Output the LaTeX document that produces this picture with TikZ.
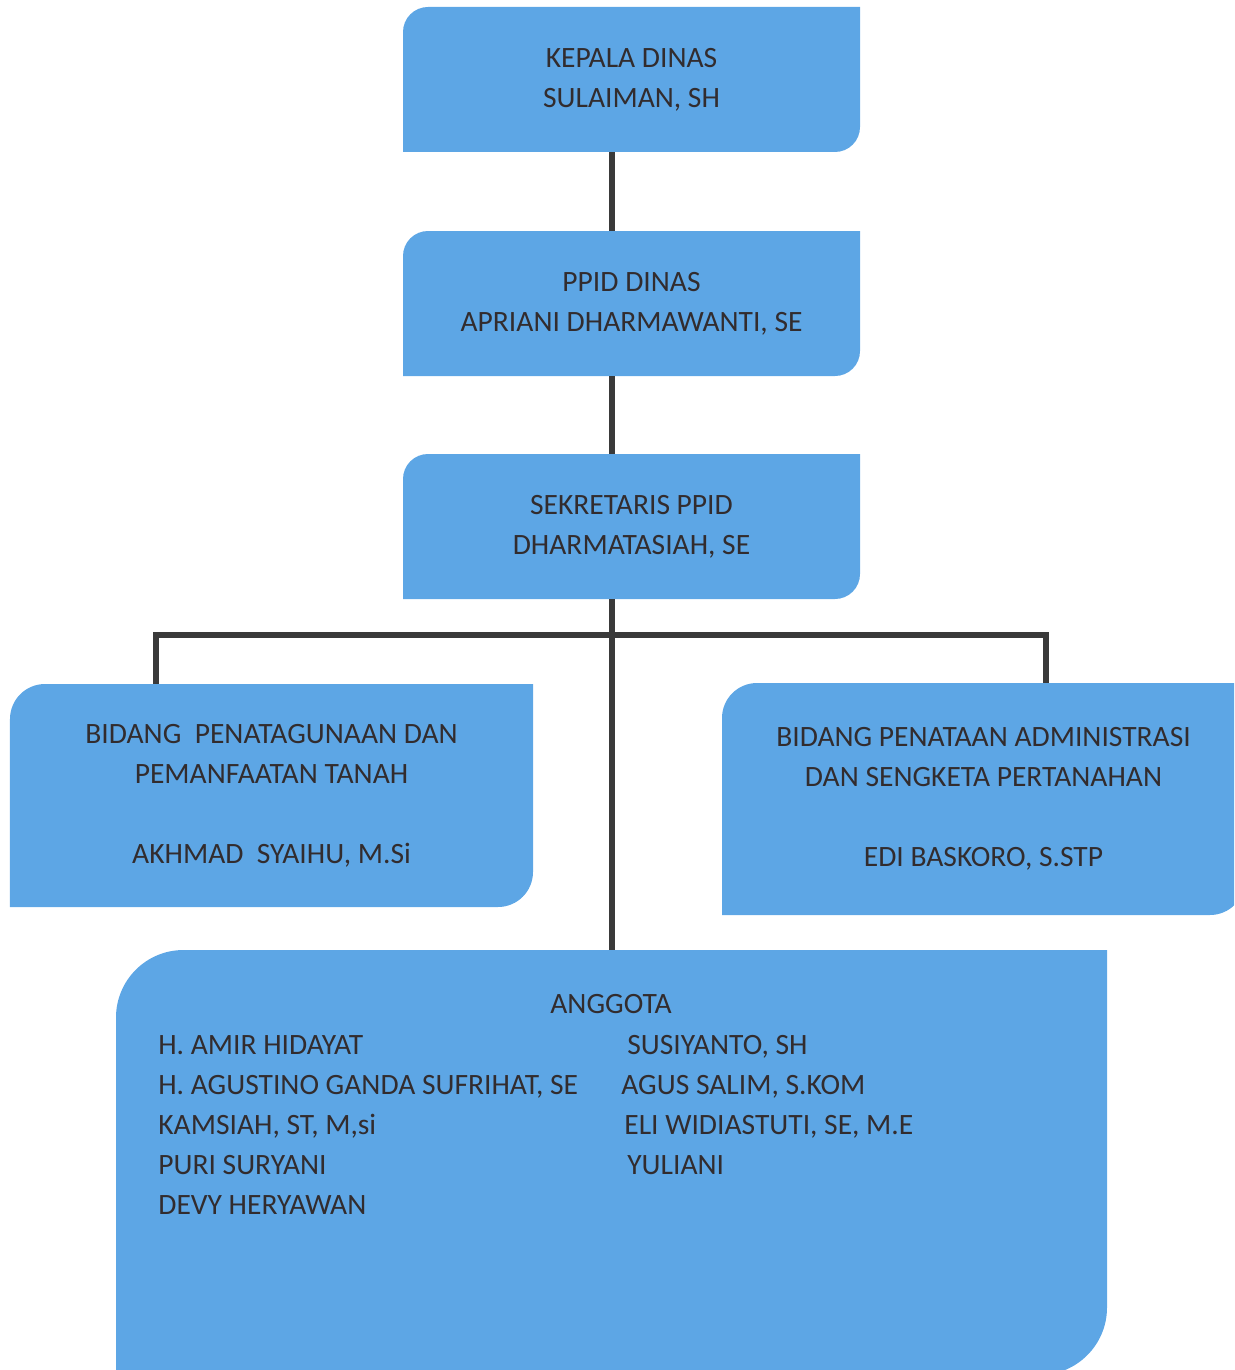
\documentclass[tikz,border=0pt]{standalone}
\usepackage{fontspec}
\setmainfont{Carlito}
\definecolor{biru}{RGB}{93,166,229}
\definecolor{tinta}{RGB}{50,44,46}
\definecolor{garisgelap}{RGB}{58,58,58}
\tikzset{
  kotak/.style={rectangle, inner sep=0pt, align=center, text=tinta,
    path picture={\fill[biru] (path picture bounding box.south west)
      -- ([yshift=-#1]path picture bounding box.north west)
      arc[start angle=180, end angle=90, radius=#1]
      -- (path picture bounding box.north east)
      -- ([yshift=#1]path picture bounding box.south east)
      arc[start angle=0, end angle=-90, radius=#1]
      -- cycle;}},
  garis/.style={draw=garisgelap, line width=3pt}
}
\begin{document}
\begin{tikzpicture}[every node/.style={font=\fontsize{16.8}{22.8}\selectfont}]

      \useasboundingbox (0,0) rectangle (24.68,-27.4);
      \clip (0,0) rectangle (24.68,-27.4);

      \node[kotak=0.5cm, minimum width=9.14cm, minimum height=2.9cm] (kepala) at (12.63,-1.59)
        {KEPALA DINAS\\SULAIMAN, SH};
      \node[kotak=0.5cm, minimum width=9.14cm, minimum height=2.9cm] (ppid) at (12.63,-6.07)
        {PPID DINAS\\APRIANI DHARMAWANTI, SE};
      \node[kotak=0.5cm, minimum width=9.14cm, minimum height=2.9cm] (sekretaris) at (12.63,-10.53)
        {SEKRETARIS PPID\\DHARMATASIAH, SE};

      \node[kotak=0.7cm, minimum width=10.46cm, minimum height=4.46cm] (penatagunaan) at (5.43,-15.91)
        {BIDANG\ \ PENATAGUNAAN DAN\\PEMANFAATAN TANAH\\[22.8pt]AKHMAD\ \ SYAIHU, M.Si};
      \node[kotak=0.7cm, minimum width=10.46cm, minimum height=4.64cm] (administrasi) at (19.67,-15.98)
        {BIDANG PENATAAN ADMINISTRASI\\DAN SENGKETA PERTANAHAN\\[22.8pt]EDI BASKORO, S.STP};

      \node[kotak=1.35cm, minimum width=19.82cm, minimum height=8.5cm] (anggota) at (12.23,-23.25) {};

      \begin{scope}[every node/.style={font=\fontsize{16.8}{22.8}\selectfont, text=tinta, inner sep=0pt, anchor=base west}]
        \node[anchor=base] (judul) at (12.22,-20.26) {ANGGOTA};
        \node (amir)      at (3.16,-21.08) {H. AMIR HIDAYAT};
        \node (agustino)  at (3.16,-21.88) {H. AGUSTINO GANDA SUFRIHAT, SE};
        \node (kamsiah)   at (3.16,-22.68) {KAMSIAH, ST, M,si};
        \node (puri)      at (3.16,-23.48) {PURI SURYANI};
        \node (devy)      at (3.16,-24.28) {DEVY HERYAWAN};
        \node (susiyanto) at (12.54,-21.08) {SUSIYANTO, SH};
        \node (agus)      at (12.42,-21.88) {AGUS SALIM, S.KOM};
        \node (eli)       at (12.48,-22.68) {ELI WIDIASTUTI, SE, M.E};
        \node (yuliani)   at (12.54,-23.48) {YULIANI};
      \end{scope}

      \coordinate (poros) at (12.24,0);
      \coordinate (cabang) at (0,-12.7);
      \coordinate (kiri) at (3.12,0);
      \coordinate (kanan) at (20.92,0);

      \draw[garis] (kepala.south -| poros) -- (ppid.north -| poros);
      \draw[garis] (ppid.south -| poros) -- (sekretaris.north -| poros);
      \draw[garis] (sekretaris.south -| poros) -- (anggota.north -| poros);
      \draw[garis] (penatagunaan.north -| kiri) -- (cabang -| kiri)
        -- (cabang -| kanan) -- (administrasi.north -| kanan);

    \end{tikzpicture}
\end{document}
